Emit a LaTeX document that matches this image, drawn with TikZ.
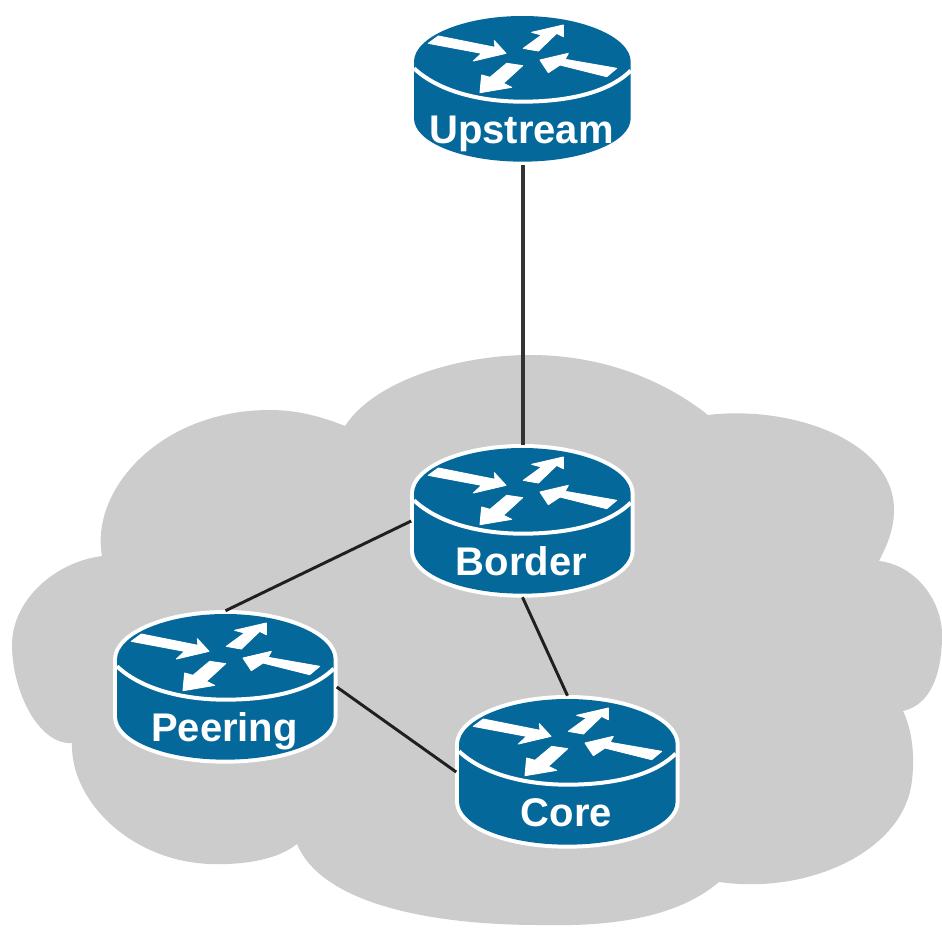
\documentclass[tikz,border=0pt]{standalone}
\usepackage{fontspec}
\setmainfont{Liberation Sans}
\definecolor{routerblue}{HTML}{05689A}
\definecolor{cloudgrey}{HTML}{CCCCCC}
\tikzset{
  routerbox/.style={rectangle,inner sep=0pt,minimum width=166.5pt,minimum height=114pt},
  routerbody/.style={preaction={draw=white,line width=6pt,line join=round},fill=routerblue},
  routerarc/.style={draw=white,line width=3pt},
  routerarrow/.style={fill=white,draw=white,line width=.7pt,line join=round},
  routertext/.style={text=white,font=\bfseries\fontsize{30}{30}\selectfont,anchor=base,inner sep=0pt},
  cloudshape/.style={preaction={draw=white,line width=5pt,line join=round},fill=cloudgrey},
  uplink/.style={draw=black!80,line width=3pt},
  corelink/.style={draw=black!88,line width=2.2pt}
}
% #1 name, #2 centre x, #3 top y, #4 label (px coordinates of the reference)
\newcommand{\routericon}[4]{%
  \node[routerbox] (#1) at (#2,#3+73) {};
  \begin{scope}[x=.25pt,y=-.25pt,shift={({(#2-122.5)*3},{(#3-16)*3})}]
    \path[routerbody] (42,185) .. controls (42,112) and (187,48) .. (367,48)
      .. controls (547,48) and (692,112) .. (692,185)
      -- (692,355) .. controls (692,427) and (547,485) .. (367,485)
      .. controls (187,485) and (42,427) .. (42,355) -- cycle;
    \path[routerarc] (42,205) .. controls (120,278) and (250,305) .. (367,305)
      .. controls (490,305) and (620,283) .. (692,212);
    \path[routerarrow] (85,130) -- (115,108) -- (285,142) -- (283,122) -- (318,160) -- (220,183) -- (245,160) -- cycle;
    \path[routerarrow] (370,145) -- (425,105) -- (395,97) -- (490,75) -- (490,110) -- (470,100) -- (415,153) -- cycle;
    \path[routerarrow] (420,180) -- (505,160) -- (495,178) -- (650,205) -- (620,230) -- (480,195) -- (445,218) -- cycle;
    \path[routerarrow] (368,197) -- (320,190) -- (270,232) -- (245,225) -- (240,278) -- (335,262) -- (310,250) -- cycle;
  \end{scope}
  \node[routertext] (#1-label) at (#2-1,#3+127) {#4};
}
\begin{document}
\begin{tikzpicture}[x=.75pt,y=-.75pt]
  \path[use as bounding box,fill=white] (0,0) rectangle (942,928);
  \path[cloudshape] (345,426)
    .. controls (375,380) and (460,355) .. (530,355)
    .. controls (610,355) and (670,385) .. (708,415)
    .. controls (790,405) and (894,440) .. (894,510)
    .. controls (894,530) and (887,545) .. (879,561)
    .. controls (915,565) and (942,600) .. (942,635)
    .. controls (942,675) and (930,705) .. (903,711)
    .. controls (912,730) and (915,755) .. (912,780)
    .. controls (905,850) and (810,895) .. (719,882)
    .. controls (680,915) and (620,927) .. (540,925)
    .. controls (420,925) and (320,900) .. (297,844)
    .. controls (275,862) and (235,865) .. (210,864)
    .. controls (130,861) and (70,800) .. (72,743)
    .. controls (38,745) and (12,690) .. (12,645)
    .. controls (12,600) and (55,562) .. (102,556)
    .. controls (90,490) and (160,410) .. (270,410)
    .. controls (300,410) and (325,418) .. (345,426) -- cycle;
  \routericon{upstream}{522.5}{16}{Upstream}
  \routericon{border}{522.5}{448}{Border}
  \routericon{peering}{225.5}{614}{Peering}
  \routericon{core}{567.5}{699}{Core}
  \draw[uplink] (upstream.south) -- (border.north);
  \draw[corelink] (border.west) -- (peering.north);
  \draw[corelink] (border.south) -- (core.north);
  \draw[corelink] (peering.east) -- (core.west);
\end{tikzpicture}
\end{document}
